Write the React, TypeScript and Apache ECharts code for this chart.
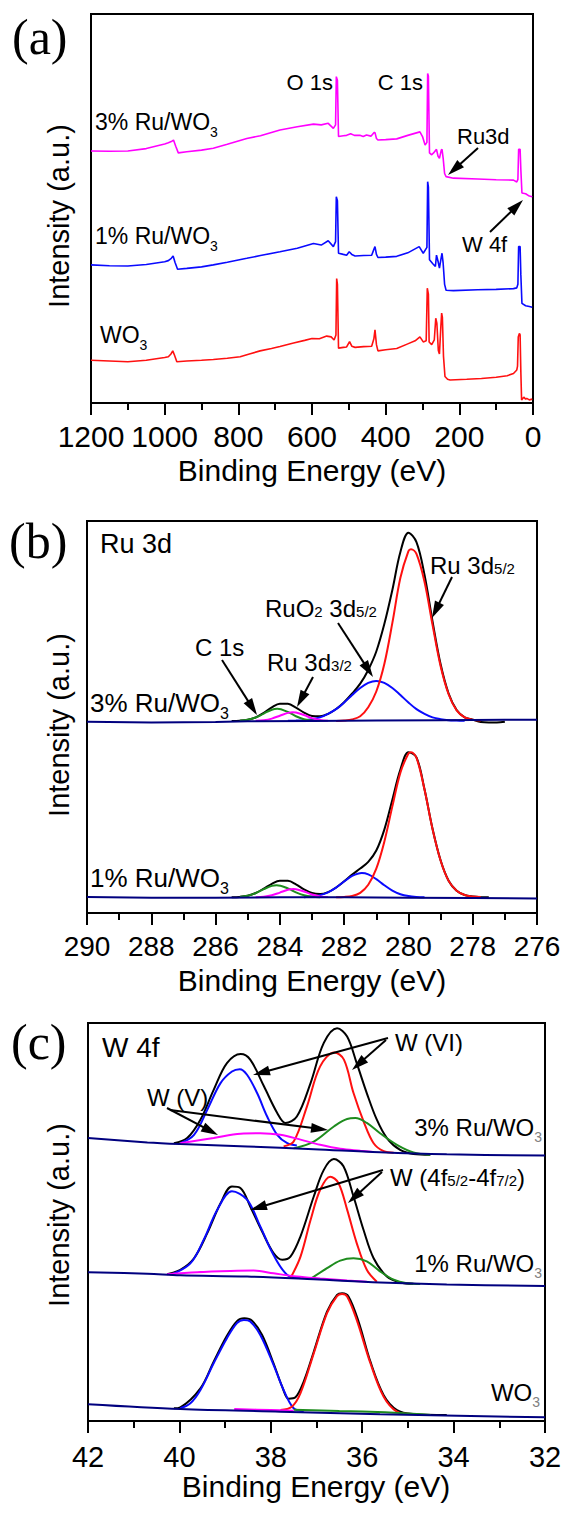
import React, { useEffect, useRef } from "react";
import * as echarts from "echarts";

type Pt = [number, number];

const FONT = "'Liberation Sans', Arial, Helvetica, sans-serif";
const SERIF = "'Liberation Serif', 'Times New Roman', Times, serif";

// ---------------- axis ranges (min, max, step) ----------------
const xRangeA: [number, number, number] = [0, 1200, 200];
const xRangeB: [number, number, number] = [276, 290, 2];
const xRangeC: [number, number, number] = [32, 42, 2];
const xTitle = "Binding Energy (eV)";
const yTitle = "Intensity (a.u.)";

// ---------------- (a) XPS survey ----------------
const surveyWO3: Pt[] = [
  [1200, 11.0], [1150, 10.8], [1100, 10.6], [1050, 11.0], [1000, 11.7], [990, 11.9], [983, 12.6], [978, 13.4],
  [973, 12.2], [967, 10.6], [940, 10.8], [900, 11.0], [868, 11.2], [830, 11.5], [795, 11.9], [770, 12.6],
  [741, 13.4], [710, 14.0], [687, 14.5], [650, 15.4], [620, 16.1], [600, 16.6], [580, 16.5], [560, 17.2],
  [548, 17.0], [540, 16.2], [535, 17.5], [533, 32.0], [531, 30.5], [528, 14.1], [515, 14.3], [506, 14.4],
  [498, 15.8], [492, 14.6], [483, 14.3], [460, 14.5], [438, 14.6], [432, 16.5], [429, 18.8], [425, 15.0],
  [421, 13.4], [400, 13.7], [370, 14.0], [340, 15.2], [320, 16.0], [307, 17.0], [298, 15.7], [290, 16.0],
  [287, 29.5], [284, 28.0], [282, 15.7], [275, 15.0], [268, 16.2], [264, 21.8], [261, 20.5], [257, 13.5],
  [254, 12.6], [250, 20.0], [248, 23.1], [246, 22.0], [243, 12.0], [239, 6.8], [232, 6.1], [225, 5.9],
  [180, 6.1], [140, 6.3], [100, 6.6], [70, 7.0], [53, 7.6], [44, 8.5], [42, 9.5], [40, 17.0], [37, 17.9],
  [35, 17.5], [33, 8.0], [31, 0.8], [25, 1.5], [20, 1.0], [17, 1.2], [10, 0.8], [2, 1.0],
];
const survey1Ru: Pt[] = [
  [1200, 35.5], [1150, 35.3], [1100, 35.2], [1050, 35.6], [1000, 36.3], [990, 36.6], [982, 37.2], [977, 37.8],
  [972, 36.2], [965, 34.4], [940, 34.6], [900, 35.0], [868, 35.5], [830, 36.2], [777, 37.2], [740, 37.9],
  [687, 38.9], [640, 39.8], [596, 41.0], [575, 40.6], [556, 41.7], [542, 40.2], [536, 41.5], [534, 53.0],
  [531, 52.0], [528, 38.5], [515, 38.2], [506, 38.0], [499, 38.9], [492, 38.2], [483, 37.8], [460, 37.9],
  [438, 38.0], [432, 39.5], [429, 40.2], [425, 38.2], [421, 37.4], [400, 37.5], [370, 37.7], [340, 38.6],
  [309, 40.2], [298, 38.5], [288, 40.0], [286, 56.9], [284, 55.5], [281, 36.8], [272, 35.8], [265, 35.1],
  [262, 38.0], [258, 36.5], [254, 34.7], [249, 37.5], [247, 38.5], [244, 36.0], [240, 30.5], [236, 29.0],
  [216, 28.9], [150, 29.1], [100, 29.2], [53, 29.4], [44, 29.6], [41, 30.5], [39, 40.2], [35, 40.2],
  [33, 33.0], [30, 25.6], [20, 25.0], [10, 24.8], [2, 24.6],
];
const survey3Ru: Pt[] = [
  [1200, 64.8], [1150, 64.7], [1100, 64.8], [1050, 65.4], [1000, 66.6], [990, 66.9], [982, 67.2], [976, 67.6],
  [970, 66.0], [963, 64.3], [940, 64.6], [900, 65.0], [868, 65.5], [830, 66.5], [777, 68.0], [740, 68.7],
  [687, 70.2], [640, 71.0], [596, 71.7], [575, 71.5], [556, 71.9], [542, 70.6], [536, 71.5], [534, 83.9],
  [531, 83.0], [528, 68.5], [515, 68.7], [506, 68.8], [495, 69.2], [485, 68.8], [470, 68.8], [461, 68.5],
  [452, 68.9], [440, 68.6], [432, 69.5], [429, 69.5], [425, 68.0], [421, 67.6], [400, 67.7], [370, 67.9],
  [340, 68.8], [307, 69.7], [300, 68.5], [293, 66.3], [288, 67.0], [286, 84.7], [284, 84.0], [281, 64.3],
  [275, 63.8], [268, 64.5], [262, 65.2], [258, 63.5], [254, 62.9], [249, 65.0], [247, 65.2], [244, 63.0],
  [240, 59.0], [236, 58.2], [216, 57.8], [150, 57.6], [100, 57.4], [53, 57.3], [44, 56.8], [41, 57.5],
  [39, 65.2], [35, 65.2], [33, 60.0], [30, 54.0], [20, 53.8], [10, 53.2], [2, 53.0],
];

// ---------------- (b) Ru 3d ----------------
const ru3Base: Pt[] = [[290, 48.8], [288, 48.6], [286, 48.7], [285, 48.9], [283, 49.0], [281, 49.1], [279, 49.2], [277, 49.3], [276, 49.3]];
const ru3Black: Pt[] = [
  [285.5, 49.0], [285.25, 49.06], [285.0, 49.28], [284.75, 49.91], [284.5, 51.06], [284.25, 52.45], [284.0, 53.4],
  [283.75, 53.36], [283.5, 52.41], [283.25, 51.14], [283.0, 50.27], [282.75, 50.18], [282.5, 50.81], [282.25, 52.03],
  [282.0, 53.78], [281.75, 55.99], [281.5, 58.5], [281.25, 62.0], [281.0, 66.7], [280.75, 73.7], [280.5, 82.4],
  [280.25, 92.1], [280.0, 97.0], [279.75, 94.6], [279.5, 86.3], [279.25, 74.4], [279.0, 63.5], [278.75, 56.0],
  [278.5, 51.8], [278.25, 49.9], [278.0, 49.3], [277.75, 48.7], [277.5, 48.6], [277.25, 48.6], [277.0, 48.8],
];
const ru3Red: Pt[] = [
  [282.25, 49.0], [282.0, 49.1], [281.75, 49.4], [281.5, 50.2], [281.25, 52.5], [281.0, 56.5], [280.75, 63.5],
  [280.5, 74.0], [280.25, 85.5], [280.0, 92.3], [279.92, 92.8], [279.75, 91.6], [279.5, 84.5], [279.25, 73.5],
  [279.0, 63.0], [278.75, 55.8], [278.5, 51.7], [278.25, 49.9], [278.0, 49.3], [277.75, 49.1],
];
const ru3Blue: Pt[] = [
  [283.75, 49.03], [283.5, 49.1], [283.25, 49.2], [283.0, 49.45], [282.75, 49.9], [282.5, 50.8], [282.25, 52.0],
  [282.0, 53.7], [281.75, 55.6], [281.5, 57.4], [281.25, 58.7], [281.0, 59.2], [280.75, 58.7], [280.5, 57.4],
  [280.25, 55.6], [280.0, 53.7], [279.75, 52.0], [279.5, 50.8], [279.25, 49.9], [279.0, 49.45], [278.75, 49.2],
  [278.5, 49.1], [278.25, 49.03],
];
const ru3Green: Pt[] = [
  [285.25, 49.06], [285.0, 49.28], [284.75, 49.87], [284.5, 50.88], [284.25, 51.86], [284.08, 52.1], [283.75, 51.28],
  [283.5, 50.2], [283.25, 49.44], [283.0, 49.11], [282.75, 49.02],
];
const ru3Magenta: Pt[] = [
  [284.75, 49.04], [284.5, 49.18], [284.25, 49.59], [284.0, 50.33], [283.75, 51.05], [283.6, 51.2], [283.5, 51.13],
  [283.25, 50.5], [283.0, 49.71], [282.75, 49.23], [282.5, 49.05],
];
const ru1Base: Pt[] = [[290, 4.1], [288, 3.9], [286, 3.9], [284, 4.0], [282, 4.0], [280, 3.9], [278, 3.8], [276, 3.7]];
const ru1Black: Pt[] = [
  [285.5, 4.0], [285.25, 4.11], [285.0, 4.41], [284.75, 5.11], [284.5, 6.23], [284.25, 7.45], [284.0, 8.23],
  [283.75, 8.2], [283.5, 7.32], [283.25, 6.0], [283.0, 5.08], [282.75, 4.83], [282.5, 5.33], [282.25, 6.51],
  [282.0, 8.11], [281.75, 9.8], [281.5, 11.33], [281.25, 13.05], [281.0, 15.94], [280.75, 21.28], [280.5, 28.91],
  [280.25, 36.59], [280.0, 41.01], [279.75, 39.7], [279.5, 31.55], [279.25, 21.5], [279.0, 13.45], [278.75, 8.25],
  [278.5, 5.7], [278.25, 4.6], [278.0, 4.22], [277.75, 4.05], [277.5, 4.0],
];
const ru1Red: Pt[] = [
  [282.25, 4.02], [282.0, 4.09], [281.75, 4.35], [281.5, 5.15], [281.25, 7.2], [281.0, 11.3], [280.75, 18.2],
  [280.5, 27.2], [280.25, 35.8], [280.0, 40.7], [279.92, 41.0], [279.75, 39.6], [279.5, 31.5], [279.25, 21.4],
  [279.0, 13.4], [278.75, 8.2], [278.5, 5.7], [278.25, 4.6], [278.0, 4.2], [277.75, 4.05],
];
const ru1Blue: Pt[] = [
  [283.25, 4.02], [283.0, 4.2], [282.75, 4.56], [282.5, 5.28], [282.25, 6.49], [282.0, 8.02], [281.75, 9.45],
  [281.45, 10.2], [281.25, 9.85], [281.0, 8.64], [280.75, 7.08], [280.5, 5.71], [280.25, 4.79], [280.0, 4.31],
  [279.75, 4.1], [279.5, 4.03],
];
const ru1Green: Pt[] = [
  [285.25, 4.11], [285.0, 4.41], [284.75, 5.08], [284.5, 6.08], [284.25, 6.93], [284.1, 7.1], [283.75, 6.28],
  [283.5, 5.26], [283.25, 4.51], [283.0, 4.15], [282.75, 4.03],
];
const ru1Magenta: Pt[] = [
  [284.75, 4.03], [284.5, 4.15], [284.25, 4.52], [284.0, 5.21], [283.75, 5.92], [283.58, 6.1], [283.5, 6.06],
  [283.25, 5.49], [283.0, 4.73], [282.75, 4.24], [282.5, 4.05],
];

// ---------------- (c) W 4f ----------------
const w3Base: Pt[] = [[42, 71.1], [40.7, 70.0], [39.98, 69.6], [38.52, 69.0], [37.06, 68.3], [35.61, 67.5], [34.15, 67.0], [32, 66.7]];
const w3Black: Pt[] = [
  [40.12, 69.8], [39.83, 71.1], [39.54, 75.7], [39.25, 83.2], [38.96, 89.9], [38.66, 92.2], [38.45, 90.8],
  [38.15, 84.1], [37.86, 77.4], [37.68, 74.9], [37.43, 76.5], [37.13, 84.9], [36.84, 95.0], [36.55, 98.7],
  [36.33, 96.6], [36.12, 89.9], [35.9, 82.4], [35.68, 75.7], [35.46, 71.1], [35.17, 68.1], [34.88, 67.1], [34.51, 66.9],
];
const w3Blue: Pt[] = [
  [39.98, 69.8], [39.68, 71.9], [39.39, 78.2], [39.1, 84.9], [38.85, 87.8], [38.68, 88.4], [38.52, 87.0],
  [38.3, 82.4], [38.08, 76.5], [37.86, 71.9], [37.64, 69.8], [37.43, 69.2],
];
const w3Red: Pt[] = [
  [37.72, 69.0], [37.5, 70.2], [37.21, 79.0], [36.92, 89.1], [36.61, 92.6], [36.4, 90.8], [36.19, 82.4],
  [35.97, 75.3], [35.75, 69.8], [35.53, 67.8], [35.31, 67.4],
];
const w3Green: Pt[] = [
  [37.5, 68.5], [37.06, 70.2], [36.62, 74.0], [36.33, 75.9], [36.15, 76.1], [35.9, 74.9], [35.61, 72.3],
  [35.24, 69.4], [34.88, 67.5], [34.51, 66.9],
];
const w3Magenta: Pt[] = [
  [39.98, 69.8], [39.25, 71.1], [38.66, 72.2], [38.23, 72.3], [37.79, 71.9], [37.35, 70.7], [36.92, 69.4],
  [36.48, 68.4], [36.04, 67.9], [35.75, 67.6],
];
const w1Base: Pt[] = [[42, 37.4], [40.7, 37.0], [39.98, 36.6], [38.52, 36.3], [37.06, 35.6], [35.61, 34.8], [34.15, 34.3], [32, 33.9]];
const w1Black: Pt[] = [
  [40.27, 36.9], [39.98, 38.0], [39.68, 40.9], [39.39, 47.2], [39.1, 54.7], [38.85, 58.9], [38.66, 58.5],
  [38.45, 53.9], [38.19, 47.6], [37.94, 42.2], [37.75, 40.5], [37.57, 41.3], [37.35, 46.4], [37.06, 56.4],
  [36.84, 63.1], [36.62, 65.8], [36.41, 64.0], [36.19, 56.4], [35.97, 48.0], [35.75, 40.9], [35.46, 36.3],
  [35.17, 34.8], [34.88, 34.5],
];
const w1Blue: Pt[] = [
  [40.2, 36.7], [39.76, 39.6], [39.47, 45.5], [39.17, 53.1], [38.85, 57.7], [38.52, 55.6], [38.23, 48.9],
  [37.94, 41.7], [37.64, 36.7], [37.35, 35.9],
];
const w1Red: Pt[] = [
  [37.57, 35.9], [37.35, 41.3], [37.13, 50.5], [36.92, 58.1], [36.7, 61.4], [36.52, 59.8], [36.33, 53.1],
  [36.12, 44.7], [35.9, 38.0], [35.68, 35.0],
];
const w1Green: Pt[] = [
  [37.13, 35.7], [36.77, 38.4], [36.48, 40.3], [36.19, 40.9], [35.9, 40.1], [35.61, 37.6], [35.31, 35.5],
  [35.02, 34.6], [34.73, 34.4],
];
const w1Magenta: Pt[] = [
  [40.27, 36.9], [39.61, 37.4], [38.88, 37.7], [38.37, 37.8], [37.94, 37.1], [37.43, 36.3], [36.92, 35.8],
  [36.33, 35.3], [35.9, 35.0],
];
const w0Base: Pt[] = [[42, 4.2], [39.98, 3.0], [37.79, 2.35], [35.61, 1.68], [32, 0.92]];
const w0Black: Pt[] = [
  [40.12, 3.19], [39.98, 3.44], [39.54, 8.2], [39.25, 14.9], [38.96, 21.4], [38.74, 25.1], [38.58, 25.8],
  [38.41, 25.2], [38.19, 21.6], [37.94, 14.5], [37.75, 8.6], [37.61, 5.6], [37.46, 5.95], [37.28, 9.9],
  [37.06, 17.4], [36.77, 27.5], [36.55, 31.7], [36.44, 32.1], [36.3, 31.3], [36.08, 25.0], [35.82, 14.9],
  [35.53, 6.5], [35.24, 2.77], [34.88, 1.76], [34.15, 1.5],
];
const w0Blue: Pt[] = [
  [39.98, 3.19], [39.76, 4.44], [39.54, 7.8], [39.25, 14.5], [38.96, 20.8], [38.74, 24.6], [38.59, 25.4],
  [38.45, 25.0], [38.23, 21.6], [37.94, 14.1], [37.72, 7.8], [37.5, 3.19], [37.28, 2.5],
];
const w0Red: Pt[] = [
  [37.79, 2.77], [37.54, 3.6], [37.35, 7.0], [37.06, 17.0], [36.77, 27.1], [36.55, 31.4], [36.44, 31.9],
  [36.33, 31.3], [36.12, 25.4], [35.82, 14.5], [35.53, 6.1], [35.24, 2.35], [34.95, 1.76],
];
const w0Green: Pt[] = [[37.5, 2.8], [36.5, 2.5], [35.5, 2.2], [35.0, 1.9], [34.5, 1.5]];
const w0Magenta: Pt[] = [[38.8, 3.0], [38.0, 2.75], [37.5, 2.6]];

// ---------------- styling ----------------
const C_BLACK = "#000000";
const C_BLUE = "#0a0aff";
const C_RED = "#ff1010";
const C_GREEN = "#1e8c1e";
const C_MAGENTA = "#ff00ff";
const C_NAVY = "#00007f";
const C_GRAY = "#808080";

let ctx: CanvasRenderingContext2D | null = null;
function measure(t: string, size: number) {
  if (!ctx) ctx = document.createElement("canvas").getContext("2d");
  if (!ctx) return t.length * size * 0.55;
  ctx.font = `${size}px ${FONT}`;
  return ctx.measureText(t).width;
}

type Part = [string, number, number?, string?];
function txt(x: number, y: number, parts: Part[], anchor: "left" | "right" = "left") {
  const ws = parts.map((p) => measure(p[0], p[1]));
  const total = ws.reduce((a, b) => a + b, 0);
  let cx = anchor === "left" ? x : x - total;
  return parts.map((p, i) => {
    const el = {
      type: "text",
      x: cx,
      y: y + (p[2] || 0),
      z: 100,
      silent: true,
      style: {
        text: p[0],
        font: `${p[1]}px ${FONT}`,
        fill: p[3] || "#000",
        textAlign: "left",
        textVerticalAlign: "middle",
        align: "left",
        verticalAlign: "middle",
      },
    };
    cx += ws[i];
    return el;
  });
}

function arrow(x1: number, y1: number, x2: number, y2: number, len = 17, w = 10) {
  const dx = x2 - x1, dy = y2 - y1;
  const L = Math.hypot(dx, dy);
  const ux = dx / L, uy = dy / L;
  const bx = x2 - ux * len, by = y2 - uy * len;
  const px = (-uy * w) / 2, py = (ux * w) / 2;
  return [
    { type: "line", z: 100, silent: true, shape: { x1, y1, x2: bx + ux * 2, y2: by + uy * 2 }, style: { stroke: "#000", lineWidth: 2 } },
    { type: "polygon", z: 100, silent: true, shape: { points: [[x2, y2], [bx + px, by + py], [bx - px, by - py]] }, style: { fill: "#000" } },
  ];
}

function plain(x: number, y: number, text: string, font: string, rotation = 0, align = "center") {
  return {
    type: "text", x, y, rotation, z: 100, silent: true,
    style: { text, font, fill: "#000", textAlign: align, textVerticalAlign: "middle", align, verticalAlign: "middle" },
  };
}

function xAxis(gi: number, r: [number, number, number], fontSize: number, margin: number) {
  return {
    gridIndex: gi, type: "value", min: r[0], max: r[1], interval: r[2], inverse: true,
    axisLine: { show: true, onZero: false, lineStyle: { color: "#000", width: 2 } },
    axisTick: { show: true, inside: false, length: 12, lineStyle: { color: "#000", width: 2 } },
    minorTick: { show: true, splitNumber: 2, length: 7, lineStyle: { color: "#000", width: 2 } },
    axisLabel: {
      show: true, color: "#000", fontSize, fontFamily: FONT, margin, showMinLabel: true, showMaxLabel: true,
      hideOverlap: false, formatter: (v: number) => String(v),
    },
    splitLine: { show: false },
    minorSplitLine: { show: false },
  };
}
function yAxis(gi: number) {
  return {
    gridIndex: gi, type: "value", min: 0, max: 100,
    axisLine: { show: true, onZero: false, lineStyle: { color: "#000", width: 2 } },
    axisTick: { show: false }, axisLabel: { show: false }, splitLine: { show: false },
  };
}
function line(data: Pt[], color: string, gi: number, width: number, smooth: number | boolean, z = 2) {
  return {
    type: "line", xAxisIndex: gi, yAxisIndex: gi, data, symbol: "none", showSymbol: false, smooth,
    lineStyle: { color, width }, itemStyle: { color }, z, silent: true,
  };
}

function buildOption() {
  const S = 0.35;
  const series = [
    line(surveyWO3, C_RED, 0, 1.6, false),
    line(survey1Ru, C_BLUE, 0, 1.6, false),
    line(survey3Ru, C_MAGENTA, 0, 1.6, false),

    line(ru3Black, C_BLACK, 1, 2, S, 2),
    line(ru3Blue, C_BLUE, 1, 2, S, 3),
    line(ru3Red, C_RED, 1, 2, S, 3),
    line(ru3Green, C_GREEN, 1, 2, S, 3),
    line(ru3Magenta, C_MAGENTA, 1, 2, S, 3),
    line(ru3Base, C_NAVY, 1, 2, false, 4),
    line(ru1Black, C_BLACK, 1, 2, S, 2),
    line(ru1Blue, C_BLUE, 1, 2, S, 3),
    line(ru1Red, C_RED, 1, 2, S, 3),
    line(ru1Green, C_GREEN, 1, 2, S, 3),
    line(ru1Magenta, C_MAGENTA, 1, 2, S, 3),
    line(ru1Base, C_NAVY, 1, 2, false, 4),

    line(w3Black, C_BLACK, 2, 2, S, 2),
    line(w3Blue, C_BLUE, 2, 2, S, 3),
    line(w3Red, C_RED, 2, 2, S, 3),
    line(w3Green, C_GREEN, 2, 2, S, 3),
    line(w3Magenta, C_MAGENTA, 2, 2, S, 3),
    line(w3Base, C_NAVY, 2, 2, S, 4),
    line(w1Black, C_BLACK, 2, 2, S, 2),
    line(w1Blue, C_BLUE, 2, 2, S, 3),
    line(w1Red, C_RED, 2, 2, S, 3),
    line(w1Green, C_GREEN, 2, 2, S, 3),
    line(w1Magenta, C_MAGENTA, 2, 2, S, 3),
    line(w1Base, C_NAVY, 2, 2, S, 4),
    line(w0Black, C_BLACK, 2, 2, S, 2),
    line(w0Blue, C_BLUE, 2, 2, S, 3),
    line(w0Red, C_RED, 2, 2, S, 3),
    line(w0Green, C_GREEN, 2, 2, S, 3),
    line(w0Magenta, C_MAGENTA, 2, 2, S, 3),
    line(w0Base, C_NAVY, 2, 2, S, 4),
  ];

  const els: any[] = [
    plain(12, 37, "(a)", `50px ${SERIF}`, 0, "left"),
    plain(9, 541, "(b)", `50px ${SERIF}`, 0, "left"),
    plain(11, 1042, "(c)", `50px ${SERIF}`, 0, "left"),
    plain(312, 470, xTitle, `30px ${FONT}`),
    plain(312, 980, xTitle, `30px ${FONT}`),
    plain(316, 1486, xTitle, `30px ${FONT}`),
    plain(59, 216, yTitle, `29px ${FONT}`, Math.PI / 2),
    plain(59, 725, yTitle, `29px ${FONT}`, Math.PI / 2),
    plain(59, 1215, yTitle, `29px ${FONT}`, Math.PI / 2),

    // (a)
    ...txt(333, 82, [["O 1s", 22]], "right"),
    ...txt(423, 82, [["C 1s", 22]], "right"),
    ...txt(95, 122, [["3% Ru/WO", 23], ["3", 14, 9.5]]),
    ...txt(95, 236, [["1% Ru/WO", 23], ["3", 14, 9.5]]),
    ...txt(100, 335, [["WO", 23], ["3", 14, 9.5]]),
    ...txt(457, 136, [["Ru3d", 22]]),
    ...txt(462, 244, [["W 4f", 22]]),
    ...arrow(478, 148, 448, 175),
    ...arrow(490, 232, 523, 200),

    // (b)
    ...txt(100, 544, [["Ru 3d", 27]]),
    ...txt(430, 565, [["Ru 3d", 24], ["5/2", 15, 3]]),
    ...txt(265, 608, [["RuO", 24], ["2", 15, 3], [" 3d", 24], ["5/2", 15, 3]]),
    ...txt(195, 647, [["C 1s", 24]]),
    ...txt(267, 662, [["Ru 3d", 24], ["3/2", 15, 3]]),
    ...txt(90, 703, [["3% Ru/WO", 26], ["3", 16, 10]]),
    ...txt(90, 878, [["1% Ru/WO", 26], ["3", 16, 10]]),
    ...arrow(452, 577, 432, 618),
    ...arrow(338, 623, 373, 677),
    ...arrow(222, 660, 257, 715),
    ...arrow(313, 677, 297, 707),

    // (c)
    ...txt(102, 1047, [["W 4f", 28]]),
    ...txt(395, 1042, [["W (VI)", 24]]),
    ...txt(147, 1097, [["W (V)", 24]]),
    ...txt(542, 1127, [["3% Ru/WO", 24], ["3", 14, 9.5, C_GRAY]], "right"),
    ...txt(390, 1177, [["W (4f", 24], ["5/2", 15, 3], ["-4f", 24], ["7/2", 15, 3], [")", 24]]),
    ...txt(542, 1263, [["1% Ru/WO", 24], ["3", 14, 9.5, C_GRAY]], "right"),
    ...txt(540, 1392, [["WO", 24], ["3", 14, 9.5, C_GRAY]], "right"),
    ...arrow(388, 1038, 253, 1075),
    ...arrow(386, 1040, 352, 1070),
    ...arrow(167, 1108, 218, 1135),
    ...arrow(170, 1110, 328, 1130),
    ...arrow(383, 1170, 250, 1210),
    ...arrow(382, 1172, 348, 1203),
  ];

  return {
    animation: false,
    backgroundColor: "#ffffff",
    grid: [
      { left: 91, top: 14, width: 442, height: 389, show: true, borderColor: "#000", borderWidth: 2, backgroundColor: "transparent" },
      { left: 87, top: 521, width: 450, height: 392, show: true, borderColor: "#000", borderWidth: 2, backgroundColor: "transparent" },
      { left: 88, top: 1023, width: 457, height: 398, show: true, borderColor: "#000", borderWidth: 2, backgroundColor: "transparent" },
    ],
    xAxis: [xAxis(0, xRangeA, 30, 18), xAxis(1, xRangeB, 28, 19), xAxis(2, xRangeC, 29, 21)],
    yAxis: [yAxis(0), yAxis(1), yAxis(2)],
    series,
    graphic: { elements: els },
  };
}

export default function App() {
  const ref = useRef<HTMLDivElement>(null);
  useEffect(() => {
    if (!ref.current) return;
    const chart = echarts.init(ref.current, null, { renderer: "svg" });
    chart.setOption(buildOption() as any);
    return () => chart.dispose();
  }, []);
  return (
    <div
      ref={ref}
      style={{ position: "absolute", left: 0, top: 0, width: 565, height: 1513, background: "#fff" }}
    />
  );
}
